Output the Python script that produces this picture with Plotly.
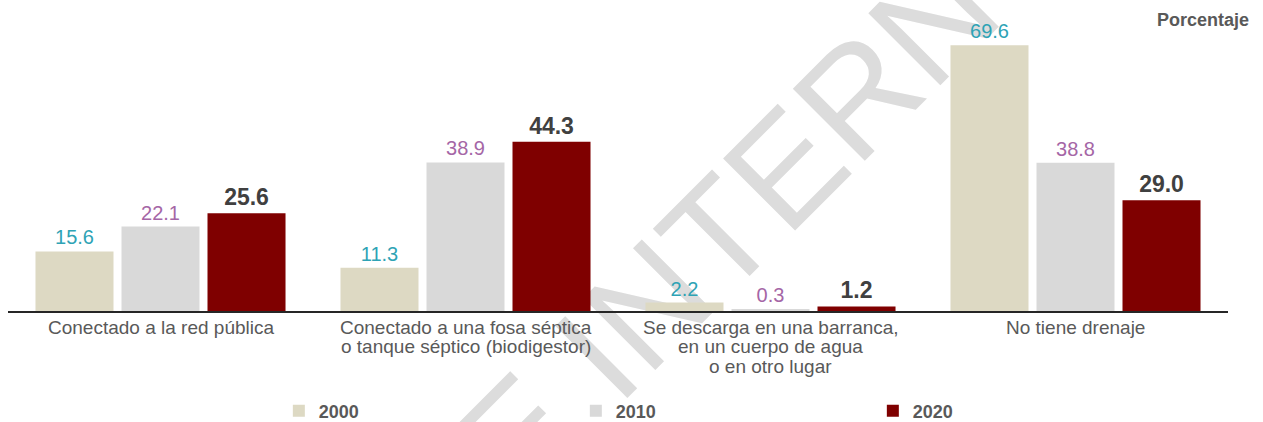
import plotly.graph_objects as go

categories = [
    "Conectado a la red pública",
    "Conectado a una fosa séptica<br>o tanque séptico (biodigestor)",
    "Se descarga en una barranca,<br>en un cuerpo de agua<br>o en otro lugar",
    "No tiene drenaje",
]
years = ["2000", "2010", "2020"]
values_2000 = [15.6, 11.3, 2.2, 69.6]
values_2010 = [22.1, 38.9, 0.3, 38.8]
values_2020 = [25.6, 44.3, 1.2, 29.0]

bar_colors = {"2000": "#ddd9c3", "2010": "#d9d9d9", "2020": "#7f0000"}
label_fonts = {
    "2000": dict(family="Liberation Sans, Arial", size=20, color="#2ea3b5"),
    "2010": dict(family="Liberation Sans, Arial", size=20, color="#a566a6"),
    "2020": dict(family="Liberation Sans, Arial", size=23, color="#404040", weight="bold"),
}
series = {"2000": values_2000, "2010": values_2010, "2020": values_2020}

fig = go.Figure()
for y in years:
    vals = series[y]
    fig.add_trace(go.Bar(
        x=categories, y=vals, name=y,
        marker=dict(color=bar_colors[y], line=dict(width=0)),
        text=[f"{v:.1f}" for v in vals],
        textposition="outside",
        textfont=label_fonts[y],
        cliponaxis=False,
        hoverinfo="skip",
    ))

fig.update_layout(
    width=1263, height=422,
    margin=dict(l=8, r=35, t=15, b=111, autoexpand=False),
    paper_bgcolor="white", plot_bgcolor="rgba(0,0,0,0)",
    barmode="group", bargap=0.154, bargroupgap=0.093,
    font=dict(family="Liberation Sans, Arial", color="#595959"),
    xaxis=dict(
        showline=True, linecolor="#262626", linewidth=1.5,
        ticks="", showgrid=False, automargin=False, showticklabels=False,
    ),
    yaxis=dict(range=[0, 77.5], visible=False, showgrid=False, zeroline=False,
               automargin=False),
    legend=dict(
        orientation="h", x=0.222, xanchor="left", y=-0.338, yanchor="middle",
        entrywidth=252, itemwidth=30, bgcolor="rgba(0,0,0,0)",
        font=dict(family="Liberation Sans, Arial", size=18, color="#595959", weight="bold"),
        traceorder="normal",
    ),
    showlegend=True,
)

# category labels (tight line spacing like the original)
for cat in categories:
    for i, line in enumerate(cat.split("<br>")):
        fig.add_annotation(
            xref="x", yref="paper", x=cat, y=0, yanchor="middle", xanchor="center",
            yshift=-(16 + i * 19.5), text=line, showarrow=False,
            font=dict(family="Liberation Sans, Arial", size=19, color="#595959"),
        )

fig.add_annotation(
    xref="paper", yref="paper", x=1.0185, y=0.983, xanchor="right", yanchor="middle",
    text="<b>Porcentaje</b>", showarrow=False,
    font=dict(family="Liberation Sans, Arial", size=18, color="#595959"),
)

# watermark behind the bars
fig.add_shape(
    type="rect", xref="paper", yref="paper",
    x0=0.571, x1=0.591, y0=0.311, y1=0.331,
    line=dict(width=0), fillcolor="rgba(0,0,0,0)", layer="below",
    label=dict(text="E INTERN", textangle=-45, textposition="middle center",
               font=dict(family="Liberation Sans, Arial", size=148, color="#dcdcdc")),
)

fig.write_html("out.html", config={"displayModeBar": False},
               post_script="document.body.style.margin='0px';document.body.style.overflow='hidden';")
